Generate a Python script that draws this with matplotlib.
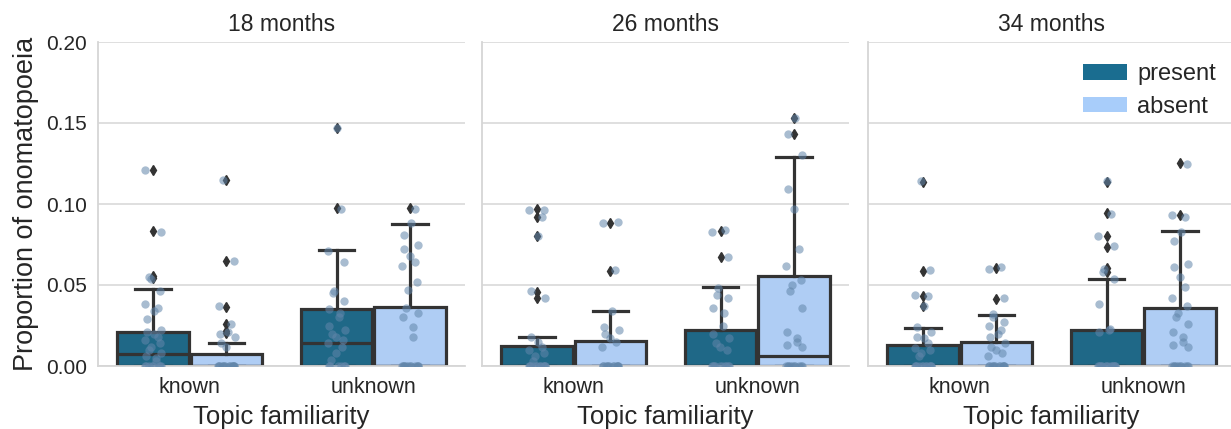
import numpy as np
import matplotlib
matplotlib.use('Agg')
from matplotlib import pyplot as plt
from matplotlib.patches import Patch

plt.rcParams['font.family'] = ['Liberation Sans', 'DejaVu Sans']
plt.rcParams['text.color'] = '#262626'
plt.rcParams['axes.labelcolor'] = '#262626'
plt.rcParams['xtick.color'] = '#262626'
plt.rcParams['ytick.color'] = '#262626'

ages = ['18 months', '26 months', '34 months']
familiarity = ['known', 'unknown']
conditions = ['present', 'absent']
box_colors = ['#1f6887', '#afcdf4']
legend_colors = ['#1a6d90', '#a8cdfa']

# box statistics per age, in order: known-present, known-absent, unknown-present, unknown-absent
q1 = [[0, 0, 0, 0], [0, 0, 0, 0], [0, 0, 0, 0]]
medians = [[0.0072, 0.0, 0.014, 0.0], [0.0, 0.0, 0.0, 0.0064], [0.0, 0.0, 0.0, 0.0]]
q3 = [[0.0212, 0.0072, 0.035, 0.0362], [0.0126, 0.0156, 0.0222, 0.0556], [0.0132, 0.015, 0.0222, 0.0356]]
whisker_hi = [[0.0475, 0.014, 0.0716, 0.0877], [0.0181, 0.034, 0.0486, 0.129], [0.0237, 0.0315, 0.0537, 0.0835]]
fliers = [
    [[0.0545, 0.0558, 0.0835, 0.121], [0.0202, 0.0215, 0.0259, 0.0366, 0.065, 0.1148],
     [0.0973, 0.147], [0.0973]],
    [[0.0418, 0.0459, 0.0804, 0.0918, 0.0967], [0.0588, 0.0885],
     [0.0675, 0.0835], [0.143, 0.1529]],
    [[0.0372, 0.0432, 0.0588, 0.1138], [0.0416, 0.0603],
     [0.058, 0.0603, 0.0737, 0.0804, 0.0942, 0.1138], [0.0932, 0.1251]],
]

# individual children (strip points)
points = [
    [[0] * 8 + [0.003, 0.005, 0.006, 0.008, 0.010, 0.012, 0.014, 0.016, 0.018, 0.020, 0.021, 0.022,
                0.029, 0.034, 0.036, 0.038, 0.046, 0.054, 0.055, 0.083, 0.121],
     [0] * 14 + [0.012, 0.014, 0.018, 0.020, 0.021, 0.026, 0.037, 0.065, 0.115],
     [0] * 6 + [0.004, 0.008, 0.012, 0.014, 0.016, 0.018, 0.020, 0.022, 0.025, 0.030, 0.033, 0.035,
                0.040, 0.045, 0.046, 0.064, 0.071, 0.097, 0.147],
     [0] * 12 + [0.018, 0.024, 0.030, 0.033, 0.036, 0.047, 0.052, 0.062, 0.064, 0.068, 0.072, 0.075,
                 0.081, 0.088, 0.097]],
    [[0] * 12 + [0.003, 0.006, 0.008, 0.010, 0.012, 0.015, 0.018, 0.042, 0.046, 0.080, 0.092, 0.096, 0.096],
     [0] * 12 + [0.012, 0.015, 0.017, 0.020, 0.022, 0.024, 0.034, 0.059, 0.088, 0.089],
     [0] * 10 + [0.010, 0.012, 0.014, 0.017, 0.020, 0.025, 0.033, 0.036, 0.042, 0.044, 0.048, 0.067,
                 0.083, 0.084],
     [0] * 10 + [0.012, 0.013, 0.015, 0.017, 0.021, 0.036, 0.046, 0.050, 0.053, 0.062, 0.072, 0.097,
                 0.109, 0.130, 0.143, 0.153]],
    [[0] * 12 + [0.006, 0.008, 0.010, 0.011, 0.014, 0.017, 0.018, 0.021, 0.024, 0.037, 0.043, 0.044,
                 0.059, 0.114],
     [0] * 12 + [0.006, 0.008, 0.010, 0.012, 0.014, 0.018, 0.020, 0.022, 0.025, 0.027, 0.030, 0.032,
                 0.042, 0.060, 0.061],
     [0] * 14 + [0.021, 0.022, 0.023, 0.038, 0.054, 0.058, 0.060, 0.074, 0.080, 0.094, 0.114],
     [0] * 10 + [0.012, 0.013, 0.015, 0.018, 0.021, 0.026, 0.030, 0.033, 0.037, 0.042, 0.049, 0.055,
                 0.061, 0.063, 0.077, 0.083, 0.092, 0.093, 0.125]],
]

W, H = 1231, 429
fig = plt.figure(figsize=(W / 100, H / 100), dpi=100)
lefts = [98, 482, 868]
axes = []
for i, age in enumerate(ages):
    ax = fig.add_axes([lefts[i] / W, (H - 366) / H, 367 / W, 324 / H])
    axes.append(ax)
    ax.set_axisbelow(True)
    ax.yaxis.grid(True, color='#dcdcdc', linewidth=1.3)
    for s in ['top', 'right']:
        ax.spines[s].set_visible(False)
    for s in ['left', 'bottom']:
        ax.spines[s].set_color('#d6d6d6')
        ax.spines[s].set_linewidth(1.3)

    stats = []
    positions = []
    for j in range(4):
        fam = j // 2
        cond = j % 2
        positions.append(fam + (-0.2 if cond == 0 else 0.2))
        stats.append(dict(med=medians[i][j], q1=q1[i][j], q3=q3[i][j],
                          whislo=0.0, whishi=whisker_hi[i][j], fliers=fliers[i][j]))
    bp = ax.bxp(stats, positions=positions, widths=0.39, patch_artist=True, manage_ticks=False,
                boxprops=dict(edgecolor='#333333', linewidth=2.3),
                medianprops=dict(color='#333333', linewidth=2.3),
                whiskerprops=dict(color='#333333', linewidth=2.3),
                capprops=dict(color='#333333', linewidth=2.3),
                flierprops=dict(marker='d', markersize=5, markerfacecolor='#333333',
                                markeredgecolor='#333333'))
    for j, box in enumerate(bp['boxes']):
        box.set_facecolor(box_colors[j % 2])

    for j in range(4):
        vals = np.array(points[i][j])
        jit = 0.045 * np.sin(np.arange(len(vals)) * 2.399 + j)
        ax.plot(positions[j] + jit, vals, 'o', color='#6286aa', alpha=0.55,
                markersize=6, markeredgewidth=0, zorder=5)

    ax.set_xlim(-0.5, 1.5)
    ax.set_ylim(0, 0.2)
    ax.set_yticks([0, 0.05, 0.10, 0.15, 0.20])
    ax.set_xticks([0, 1])
    ax.set_xticklabels(familiarity, fontsize=15.5)
    ax.tick_params(length=0, pad=8)
    ax.set_title(age, fontsize=16.5, pad=8)
    ax.set_xlabel('Topic familiarity', fontsize=18.5, labelpad=5)
    if i == 0:
        ax.set_yticklabels(['0.00', '0.05', '0.10', '0.15', '0.20'], fontsize=15)
        ax.set_ylabel('Proportion of onomatopoeia', fontsize=19.5, labelpad=5)
    else:
        ax.set_yticklabels([])

handles = [Patch(facecolor=legend_colors[k], edgecolor='none', label=conditions[k]) for k in range(2)]
axes[2].legend(handles=handles, frameon=False, fontsize=17, loc='upper right',
               bbox_to_anchor=(0.948, 0.935), borderaxespad=0, borderpad=0,
               handlelength=1.85, handleheight=0.65, handletextpad=0.45, labelspacing=0.45)

fig.savefig('out.png', dpi=100)
